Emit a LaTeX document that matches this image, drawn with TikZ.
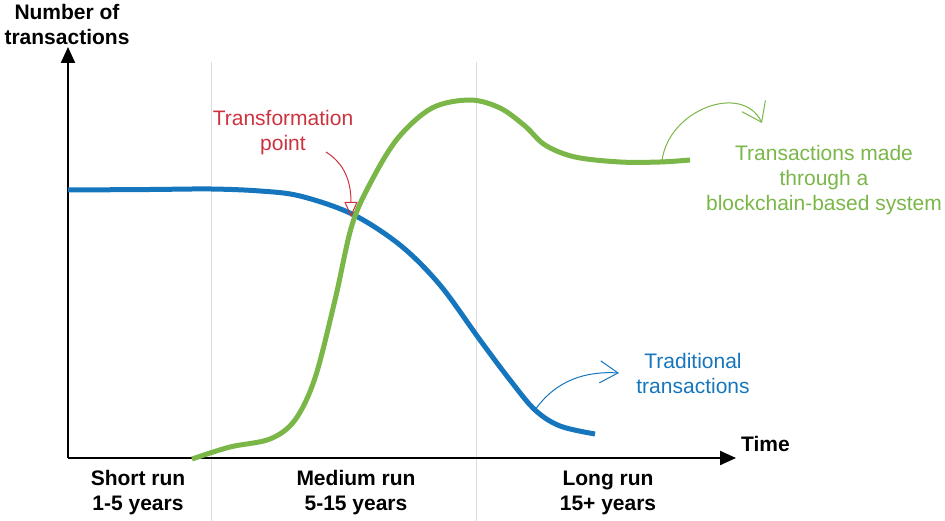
\documentclass[tikz,border=0pt]{standalone}
\usepackage{fontspec}
\setmainfont{Liberation Sans}
\usetikzlibrary{arrows.meta}
\definecolor{cblue}{RGB}{22,118,189}
\definecolor{cgreen}{RGB}{122,182,72}
\definecolor{cred}{RGB}{204,51,63}
\definecolor{cgrid}{RGB}{220,220,220}
\begin{document}
\begin{tikzpicture}[x=1pt,y=-1pt,
  lbl/.style={font=\fontsize{21}{25}\selectfont, align=center, inner sep=0pt},
  blbl/.style={lbl, font=\fontsize{21}{25}\selectfont\bfseries},
  curve/.style={line width=5pt, line cap=butt},
  axis/.style={line width=2.2pt, -{Triangle[length=16pt,width=14pt]}},
  note/.style={line width=1pt}]
\useasboundingbox (0,0) rectangle (945,521);
% grid lines
\draw[cgrid, line width=1pt] (211,62) -- (211,521);
\draw[cgrid, line width=1pt] (476,62) -- (476,521);
% axes
\coordinate (O) at (68,458);
\coordinate (ytop) at (68,47);
\coordinate (xend) at (736,458);
\draw[axis] (O) -- (ytop);
\draw[axis] (O) -- (xend);
% curves
\draw[curve, cblue] plot[smooth, tension=0.55] coordinates {(68,190) (150,189.5) (211,189) (260,191) (300,196) (352,214) (400,245) (440,285) (480,340) (510,380) (535,410) (560,426) (595,434)};
\draw[curve, cgreen] plot[smooth, tension=0.55] coordinates {(192,459) (230,447) (270,439) (295,420) (315,378) (335,300) (352,225) (372,180) (398,138) (432,108) (470,100) (500,108) (525,126) (545,145) (575,157) (620,162) (660,162) (690,160)};
% labels
\node[blbl] (ylab) at (67,24) {Number of\\transactions};
\node[blbl, anchor=west] (tlab) at (741,444) {Time};
\node[blbl] (short) at (138,493) {Short run\\1-5 years};
\node[blbl] (medium) at (356,493) {Medium run\\5-15 years};
\node[blbl] (long) at (608,493) {Long run\\15+ years};
\node[lbl, text=cred] (tp) at (283,133) {Transformation\\point};
\node[lbl, text=cgreen] (bc) at (824,180) {Transactions made\\through a\\blockchain-based system};
\node[lbl, text=cblue] (trad) at (693,373) {Traditional\\transactions};
% annotation arrows
\coordinate (tpS) at (326,152);
\coordinate (tpE) at (351,217);
\draw[note, cred, -{Triangle[open,length=15pt,width=13pt]}] (tpS) .. controls (345,164) and (351,182) .. (tpE);
\coordinate (gS) at (662,161);
\coordinate (gE) at (762,123);
\draw[note, cgreen, -{Straight Barb[length=18pt,width=26pt]}] (gS) .. controls (668,110) and (742,82) .. (gE);
\coordinate (bS) at (535,410);
\coordinate (bE) at (619,373);
\draw[note, cblue, -{Straight Barb[length=18pt,width=22pt]}] (bS) .. controls (556,380) and (586,371) .. (bE);
\end{tikzpicture}
\end{document}
